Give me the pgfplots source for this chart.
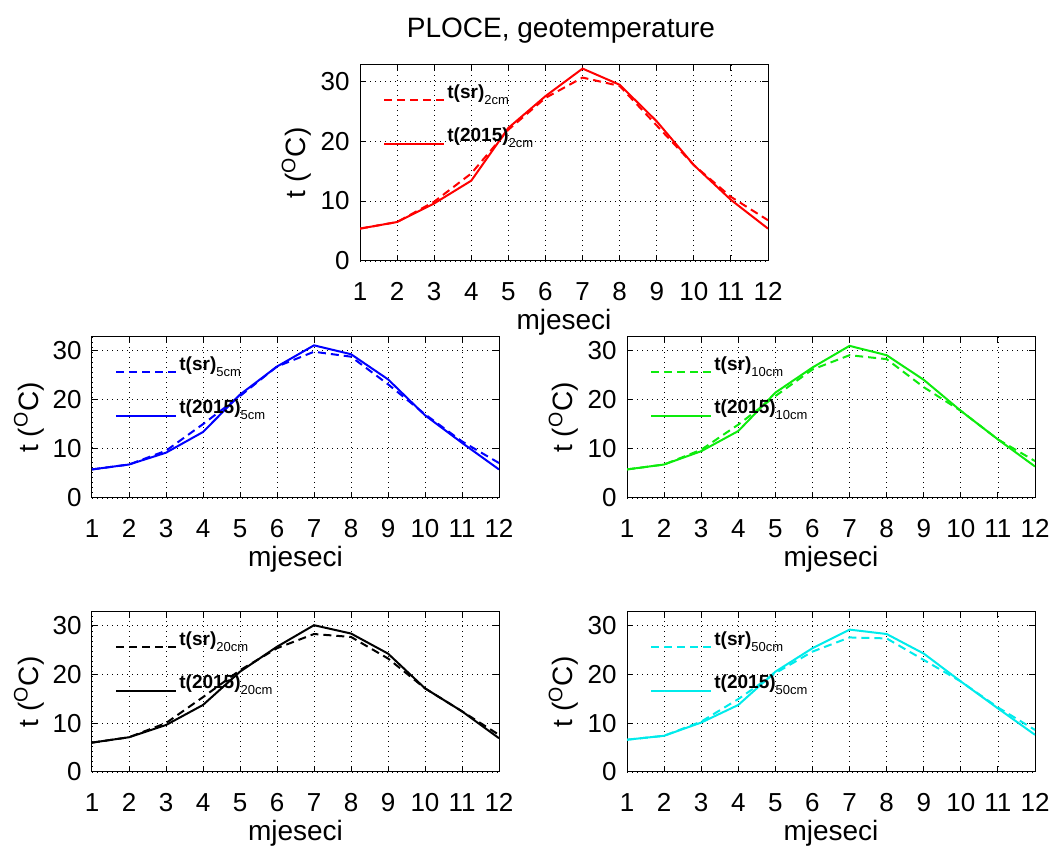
\documentclass[border=0pt]{standalone}
\usepackage{fontspec}
\setmainfont{Liberation Sans}
\usepackage{pgfplots}
\usepackage{pgfplotstable}
\pgfplotsset{compat=1.18}

\definecolor{mred}{rgb}{1,0,0}
\definecolor{mblue}{rgb}{0,0,1}
\definecolor{mgreen}{rgb}{0.05,0.92,0.05}
\definecolor{mcyan}{rgb}{0,0.92,0.92}

\pgfplotstableread{
m sr y15
1 5.4 5.4
2 6.5 6.5
3 9.9 9.6
4 14.6 13.4
5 21.9 22.2
6 27.2 27.5
7 30.6 32.1
8 29.2 29.4
9 22.6 23.3
10 16.0 16.0
11 10.7 10.2
12 6.8 5.4
}\tTwo
\pgfplotstableread{
m sr y15
1 5.8 5.8
2 6.8 6.8
3 9.6 9.2
4 15.0 13.4
5 20.7 21.0
6 26.7 26.7
7 29.7 31.0
8 28.7 29.2
9 23.1 24.1
10 17.0 16.8
11 11.5 11.2
12 7.1 5.8
}\tFive
\pgfplotstableread{
m sr y15
1 5.8 5.8
2 6.8 6.8
3 9.8 9.5
4 14.9 13.6
5 20.7 21.4
6 26.1 26.5
7 29.0 30.9
8 28.2 29.0
9 22.5 24.0
10 17.7 17.7
11 11.9 11.9
12 7.5 6.4
}\tTen
\pgfplotstableread{
m sr y15
1 6.0 6.0
2 7.1 7.1
3 10.0 9.6
4 15.3 13.7
5 20.8 20.5
6 25.3 25.6
7 28.2 30.0
8 27.6 28.3
9 23.2 24.2
10 17.1 17.1
11 12.4 12.4
12 7.6 6.9
}\tTwenty
\pgfplotstableread{
m sr y15
1 6.6 6.6
2 7.4 7.4
3 10.3 10.1
4 14.9 13.7
5 20.2 20.5
6 24.6 25.3
7 27.5 29.1
8 27.3 28.2
9 22.9 24.2
10 18.5 18.5
11 13.2 13.0
12 8.6 7.6
}\tFifty

\pgfplotsset{
  geo/.style={
    scale only axis,
    anchor=south west,
    xmin=1, xmax=12, ymin=0, ymax=32.7,
    xtick={1,...,12}, ytick={0,10,20,30},
    grid=major,
    major grid style={black, line width=0.4pt, dash pattern=on 0.5pt off 2pt},
    axis line style={black, line width=0.5pt},
    tick style={black, line width=0.5pt},
    major tick length=3pt,
    tick align=inside,
    /pgf/number format/assume math mode=true,
    tick label style={font=\fontsize{13}{15}\selectfont},
    xticklabel style={anchor=base, yshift=-20pt},
    yticklabel style={anchor=east, inner sep=0pt, xshift=-5pt},
    label style={font=\fontsize{14}{16}\selectfont},
    xlabel={mjeseci},
    ylabel={t (\textsuperscript{O}C)},
    xlabel style={at={(axis description cs:0.5,0)}, anchor=base, yshift=-34.5pt},
    ylabel style={at={(axis description cs:-0.155,0.5)}, anchor=center},
    legend style={at={(rel axis cs:0,1)}, anchor=north west, xshift=8.5pt, yshift=-6.5pt,
      draw=none, fill=none, font=\fontsize{9.5}{11}\selectfont, row sep=11.5pt,
      nodes={inner sep=1pt}},
    legend cell align=left,
    legend image code/.code={\path[draw=none,fill=none] (0pt,3.5pt) rectangle (30pt,-3.5pt); \draw[#1] (0pt,-3.5pt) -- (30pt,-3.5pt);},
    every axis plot/.append style={line width=1pt},
  },
  dsh/.style={dash pattern=on 4pt off 2.5pt},
}
\newcommand{\lsr}[1]{\textbf{t(sr)}\raisebox{-3pt}{\fontsize{6.5}{7}\selectfont #1}}
\newcommand{\lyr}[1]{\textbf{t(2015)}\raisebox{-3pt}{\fontsize{6.5}{7}\selectfont #1}}

\begin{document}
\begin{tikzpicture}
\useasboundingbox (0,0) rectangle (527pt,427.5pt);
% top
\begin{axis}[geo, at={(180pt,297pt)}, width=204pt, height=98pt,
  title={PLOCE, geotemperature},
  title style={at={(axis description cs:0.5,1)}, anchor=base, yshift=7.5pt, xshift=-1.5pt, font=\fontsize{14}{16}\selectfont}]
\addplot[mred, dsh] table[x=m, y=sr] {\tTwo};
\addlegendentry{\lsr{2cm}}
\addplot[mred] table[x=m, y=y15] {\tTwo};
\addlegendentry{\lyr{2cm}}
\end{axis}
% mid left
\begin{axis}[geo, at={(46pt,178.5pt)}, width=203.5pt, height=80.5pt]
\addplot[mblue, dsh] table[x=m, y=sr] {\tFive};
\addlegendentry{\lsr{5cm}}
\addplot[mblue] table[x=m, y=y15] {\tFive};
\addlegendentry{\lyr{5cm}}
\end{axis}
% mid right
\begin{axis}[geo, at={(313.5pt,178.5pt)}, width=204pt, height=80.5pt]
\addplot[mgreen, dsh] table[x=m, y=sr] {\tTen};
\addlegendentry{\lsr{10cm}}
\addplot[mgreen] table[x=m, y=y15] {\tTen};
\addlegendentry{\lyr{10cm}}
\end{axis}
% bottom left
\begin{axis}[geo, at={(46pt,41.5pt)}, width=203.5pt, height=80pt]
\addplot[black, dsh] table[x=m, y=sr] {\tTwenty};
\addlegendentry{\lsr{20cm}}
\addplot[black] table[x=m, y=y15] {\tTwenty};
\addlegendentry{\lyr{20cm}}
\end{axis}
% bottom right
\begin{axis}[geo, at={(313.5pt,41.5pt)}, width=204pt, height=80pt]
\addplot[mcyan, dsh] table[x=m, y=sr] {\tFifty};
\addlegendentry{\lsr{50cm}}
\addplot[mcyan] table[x=m, y=y15] {\tFifty};
\addlegendentry{\lyr{50cm}}
\end{axis}
\end{tikzpicture}
\end{document}
